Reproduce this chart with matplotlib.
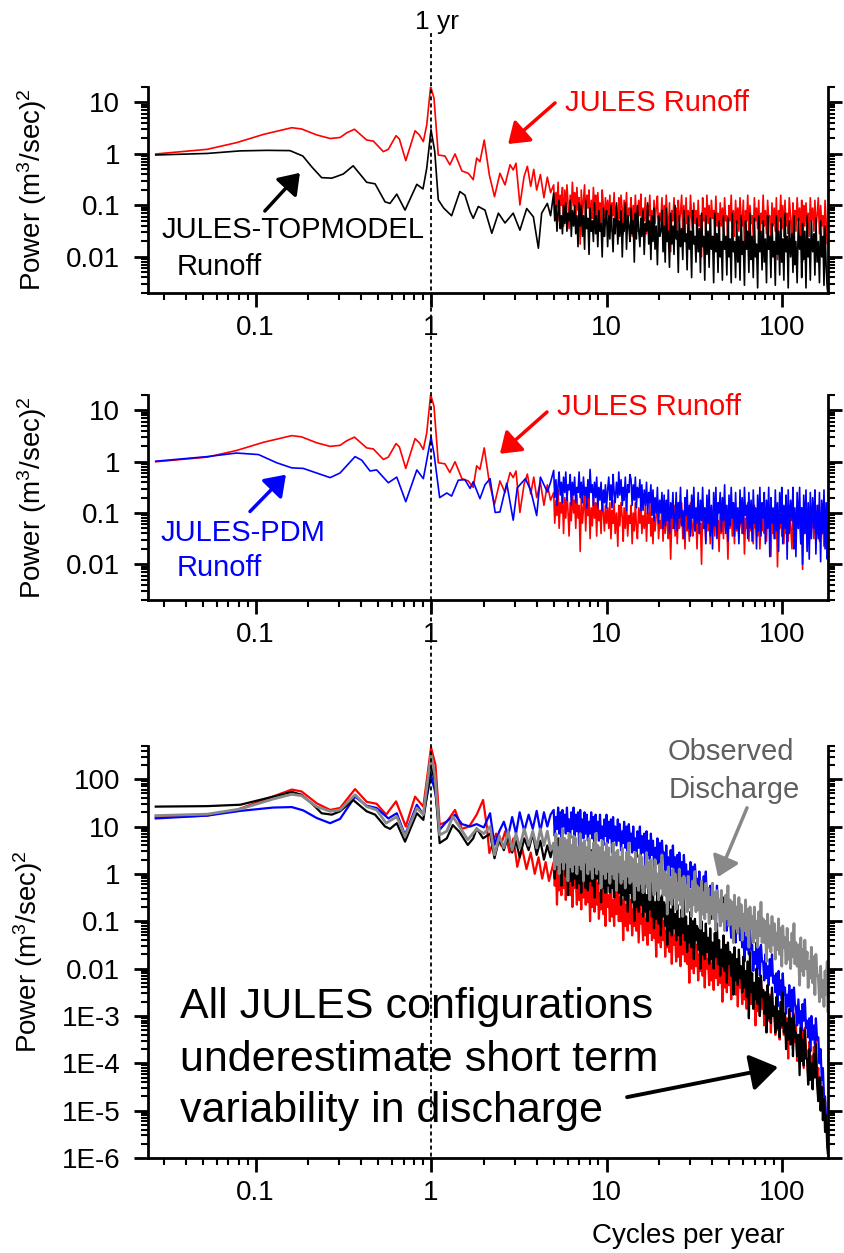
import numpy as np
import matplotlib
matplotlib.use("Agg")
import matplotlib.pyplot as plt
from matplotlib.lines import Line2D
from matplotlib.transforms import blended_transform_factory
from matplotlib.ticker import FixedLocator, FixedFormatter, LogLocator, NullFormatter

plt.rcParams['font.family'] = ['Liberation Sans', 'DejaVu Sans']
plt.rcParams['mathtext.default'] = 'regular'

# ---------------------------------------------------------------
# data (power values stored as log10 of (m3/sec)^2)
# ---------------------------------------------------------------
# shared frequency grid for the noisy high-frequency part (cycles / yr)
freq_hf = [5.00, 5.07, 5.15, 5.22, 5.30, 5.37, 5.45, 5.53, 5.61, 5.69,
           5.78, 5.86, 5.95, 6.03, 6.12, 6.21, 6.30, 6.39, 6.49, 6.58,
           6.68, 6.78, 6.88, 6.98, 7.08, 7.18, 7.29, 7.39, 7.50, 7.61,
           7.72, 7.83, 7.95, 8.06, 8.18, 8.30, 8.42, 8.54, 8.67, 8.79,
           8.92, 9.05, 9.18, 9.31, 9.45, 9.59, 9.73, 9.86, 10.0, 10.15,
           10.3, 10.45, 10.6, 10.75, 10.9, 11.05, 11.2, 11.4, 11.6, 11.75,
           11.9, 12.1, 12.3, 12.45, 12.6, 12.8, 13.0, 13.2, 13.4, 13.6,
           13.8, 14.0, 14.2, 14.4, 14.6, 14.8, 15.0, 15.25, 15.5, 15.7,
           15.9, 16.15, 16.4, 16.65, 16.9, 17.15, 17.4, 17.65, 17.9, 18.15,
           18.4, 18.65, 18.9, 19.2, 19.5, 19.8, 20.1, 20.4, 20.7, 21.0,
           21.3, 21.6, 21.9, 22.2, 22.5, 22.85, 23.2, 23.55, 23.9, 24.25,
           24.6, 24.95, 25.3, 25.65, 26.0, 26.4, 26.8, 27.2, 27.6, 28.0,
           28.4, 28.8, 29.2, 29.65, 30.1, 30.55, 31.0, 31.45, 31.9, 32.35,
           32.8, 33.3, 33.8, 34.3, 34.8, 35.3, 35.8, 36.3, 36.8, 37.35,
           37.9, 38.45, 39.0, 39.6, 40.2, 40.8, 41.4, 42.0, 42.6, 43.2,
           43.8, 44.45, 45.1, 45.75, 46.4, 47.1, 47.8, 48.5, 49.2, 49.9,
           50.6, 51.35, 52.1, 52.85, 53.6, 54.4, 55.2, 56.0, 56.8, 57.65,
           58.5, 59.35, 60.2, 61.1, 62.0, 62.9, 63.8, 64.75, 65.7, 66.65,
           67.6, 68.6, 69.6, 70.6, 71.6, 72.65, 73.7, 74.8, 75.9, 77.0,
           78.1, 79.25, 80.4, 81.6, 82.8, 84.0, 85.2, 86.45, 87.7, 89.0,
           90.3, 91.6, 92.9, 94.25, 95.6, 97.0, 98.4, 99.7, 101, 102.5,
           104, 105.5, 107, 108.5, 110, 112, 114, 115.5, 117, 118.5,
           120, 122, 124, 126, 128, 129.5, 131, 133, 135, 137,
           139, 141, 143, 145, 147, 149.5, 152, 154, 156, 158.5,
           161, 163.5, 166, 168.5, 171, 173.5, 176, 178.5, 181, 182.5]

# --- JULES runoff (red, panels 1 and 2)
runoff_f = [0.027, 0.053, 0.078, 0.111, 0.161, 0.183, 0.223, 0.266, 0.303, 0.331,
            0.366, 0.43, 0.469, 0.535, 0.571, 0.632, 0.66, 0.718, 0.811, 0.858,
            0.904, 0.945, 0.995, 1.04, 1.10, 1.20, 1.28, 1.37, 1.50, 1.63,
            1.74, 1.82, 1.90, 2.01, 2.15, 2.30, 2.47, 2.64, 2.82, 2.94,
            3.05, 3.21, 3.39, 3.54, 3.70, 3.85, 4.00, 4.20, 4.40, 4.60, 4.80]
runoff_lp = [0.0, 0.09, 0.22, 0.38, 0.51, 0.485, 0.37, 0.30, 0.32, 0.41,
             0.48, 0.27, 0.25, 0.045, 0.09, 0.355, 0.29, -0.13, 0.45, 0.37,
             0.24, 0.56, 1.31, 1.08, -0.02, -0.04, -0.21, 0.0, -0.33, -0.375,
             -0.5, -0.08, -0.15, 0.27, -0.41, -0.83, -0.375, -0.6, -0.21, -0.31,
             -0.18, -0.99, -0.44, -0.24, -0.63, -0.3, -0.7, -0.4, -0.85, -0.45, -0.75]
runoff_hf = [-0.6, -1.2, -0.75, -1.05, -0.55, -1.3, -0.8, -1.0, -0.65, -1.4,
             -0.7, -1.1, -0.6, -0.95, -1.45, -0.8, -1.15, -0.55, -1.0, -0.75,
             -1.3, -0.65, -1.1, -0.85, -1.75, -0.7, -1.2, -0.9, -0.6, -1.35,
             -0.8, -1.05, -0.7, -1.5, -0.9, -1.25, -0.65, -1.1, -0.8, -1.45,
             -0.75, -1.15, -0.95, -1.4, -0.7, -1.0, -1.35, -0.85, -1.2, -0.9,
             -1.3, -0.8, -1.5, -0.95, -1.2, -0.75, -1.4, -1.0, -1.65, -0.85,
             -1.25, -0.8, -1.1, -1.55, -0.9, -1.3, -0.75, -1.45, -1.05, -1.2,
             -0.85, -1.6, -1.0, -1.35, -0.8, -1.25, -1.5, -0.9, -1.2, -0.78,
             -1.4, -1.05, -1.3, -0.85, -1.55, -1.0, -1.2, -0.8, -1.45, -1.1,
             -1.6, -0.9, -1.35, -1.05, -0.82, -1.5, -1.15, -1.3, -0.85, -1.55,
             -1.0, -1.4, -0.8, -1.25, -1.5, -0.95, -1.9, -1.1, -1.3, -0.85,
             -1.45, -1.05, -1.6, -0.9, -1.3, -1.15, -0.8, -1.5, -1.0, -1.7,
             -0.85, -1.35, -1.1, -1.55, -0.8, -1.25, -1.45, -0.95, -1.35, -1.1,
             -1.7, -0.9, -1.4, -1.2, -2.0, -0.85, -1.3, -1.05, -1.55, -0.8,
             -1.35, -1.0, -1.6, -0.9, -1.25, -1.1, -1.45, -0.82, -1.4, -1.15,
             -1.75, -0.95, -1.4, -1.05, -1.5, -0.85, -1.3, -1.2, -1.9, -1.0,
             -1.3, -0.8, -1.45, -1.1, -1.6, -0.9, -1.35, -1.05, -1.5, -0.85,
             -1.25, -1.4, -0.9, -1.8, -1.1, -1.3, -0.8, -1.55, -1.0, -1.35,
             -1.2, -1.6, -0.85, -1.3, -1.05, -1.45, -0.9, -1.7, -1.15, -1.35,
             -0.8, -1.4, -1.1, -1.55, -0.9, -1.25, -1.2, -1.85, -0.95, -1.4,
             -1.05, -1.5, -0.85, -2.05, -1.1, -1.3, -0.8, -1.45, -1.0, -1.6,
             -0.9, -1.4, -1.15, -1.55, -0.85, -1.25, -1.7, -0.95, -1.35, -1.1,
             -1.5, -0.85, -1.3, -1.05, -1.6, -0.9, -2.1, -1.0, -1.4, -0.95,
             -1.35, -1.15, -1.6, -0.85, -1.3, -1.05, -1.5, -0.9, -1.45, -1.2,
             -0.85, -1.55, -1.0, -1.4, -1.2, -1.65, -0.9, -1.35, -1.75, -1.3]

# --- JULES-TOPMODEL runoff (black, panel 1)
topmodel_f = [0.027, 0.053, 0.082, 0.116, 0.157, 0.186, 0.209, 0.238, 0.272, 0.316,
              0.36, 0.43, 0.48, 0.547, 0.584, 0.638, 0.711, 0.83, 0.90, 0.945,
              1.0, 1.05, 1.10, 1.18, 1.31, 1.46, 1.56, 1.67, 1.74, 1.86,
              2.03, 2.22, 2.42, 2.64, 2.94, 3.21, 3.51, 3.83, 4.09, 4.27, 4.60, 4.80]
topmodel_lp = [-0.02, 0.01, 0.06, 0.07, 0.065, -0.04, -0.25, -0.46, -0.47, -0.39,
               -0.23, -0.55, -0.58, -0.93, -0.96, -0.78, -1.09, -0.59, -0.68, -0.28,
               0.47, 0.05, -0.89, -1.05, -1.2, -0.73, -0.80, -1.12, -1.25, -1.02,
               -1.09, -1.54, -1.15, -1.34, -1.15, -1.48, -1.06, -1.22, -1.83, -1.15, -0.96, -1.2]
topmodel_hf = [-0.76, -1.3, -1.0, -1.5, -1.1, -0.9, -1.45, -1.2, -1.55, -1.0,
               -1.35, -0.95, -1.5, -1.15, -1.3, -0.9, -1.6, -1.1, -1.4, -1.0,
               -1.55, -1.2, -1.8, -0.95, -1.4, -1.0, -1.6, -1.2, -1.85, -0.9,
               -1.45, -1.25, -1.95, -1.05, -1.5, -1.3, -1.7, -0.95, -1.55, -1.2,
               -1.8, -1.1, -1.5, -1.35, -2.0, -1.05, -1.6, -1.3, -1.1, -1.8,
               -1.2, -1.65, -1.0, -1.45, -1.9, -1.25, -1.55, -0.95, -1.75, -1.3,
               -1.6, -1.1, -2.0, -1.35, -1.5, -0.95, -1.85, -1.2, -1.4, -1.7,
               -1.05, -1.55, -1.3, -2.1, -1.15, -1.65, -1.0, -1.45, -1.8, -1.25,
               -1.6, -1.1, -1.95, -1.35, -1.5, -0.95, -1.75, -1.3, -2.05, -1.2,
               -1.7, -1.05, -1.85, -1.4, -2.15, -1.2, -1.6, -1.5, -1.1, -1.9,
               -1.4, -2.1, -1.05, -1.7, -1.5, -2.2, -1.15, -1.75, -1.4, -1.95,
               -1.0, -1.65, -1.5, -2.3, -1.2, -1.8, -1.45, -2.05, -1.1, -1.7,
               -1.55, -2.25, -1.2, -1.85, -1.5, -2.4, -1.1, -1.75, -1.6, -2.1,
               -1.25, -1.9, -1.45, -2.3, -1.15, -1.8, -1.6, -2.45, -1.2, -1.95,
               -1.5, -2.2, -1.25, -1.85, -1.6, -2.5, -1.15, -1.9, -1.55, -2.3,
               -1.3, -2.0, -1.7, -2.45, -1.2, -1.85, -1.6, -2.35, -1.25, -2.0,
               -1.65, -2.5, -1.15, -1.9, -1.7, -2.4, -1.3, -2.1, -1.6, -2.45,
               -1.2, -1.95, -1.7, -2.55, -1.3, -1.85, -1.5, -2.3, -1.15, -2.05,
               -1.6, -2.4, -1.25, -2.0, -1.75, -2.6, -1.2, -1.9, -1.5, -2.25,
               -1.3, -2.1, -1.65, -2.5, -1.2, -1.85, -1.6, -2.4, -1.35, -2.0,
               -1.7, -2.55, -1.2, -1.95, -1.5, -2.35, -1.25, -2.1, -1.65, -2.45,
               -1.15, -1.9, -1.6, -2.6, -1.3, -2.0, -1.55, -2.3, -1.2, -2.15,
               -1.7, -2.5, -1.25, -1.85, -1.6, -2.4, -1.35, -2.05, -1.5, -2.6,
               -1.2, -2.0, -1.65, -2.45, -1.3, -1.9, -1.55, -2.35, -1.25, -2.1,
               -1.7, -2.5, -1.3, -2.0, -1.6, -2.55, -1.4, -2.2, -2.6, -2.7]

# --- JULES-PDM runoff (blue, panel 2)
pdm_f = [0.027, 0.053, 0.078, 0.104, 0.132, 0.161, 0.187, 0.223, 0.266, 0.303,
         0.369, 0.403, 0.449, 0.49, 0.571, 0.638, 0.718, 0.83, 0.904, 1.0,
         1.04, 1.12, 1.23, 1.31, 1.43, 1.56, 1.67, 1.74, 1.90, 2.03,
         2.17, 2.32, 2.47, 2.70, 2.94, 3.10, 3.45, 3.70, 4.00, 4.20, 4.60, 4.80]
pdm_lp = [0.01, 0.10, 0.17, 0.14, -0.02, -0.12, -0.13, -0.22, -0.31, -0.22,
          0.10, 0.03, -0.18, -0.16, -0.41, -0.30, -0.78, -0.16, -0.33, 0.48,
          0.155, -0.70, -0.61, -0.67, -0.36, -0.35, -0.52, -0.39, -0.72, -0.45,
          -0.33, -0.99, -0.98, -0.42, -1.14, -0.51, -0.33, -0.56, -1.05, -0.30, -0.59, -0.4]
pdm_hf = [-0.17, -0.7, -0.35, -0.85, -0.45, -0.2, -0.65, -0.4, -0.8, -0.3,
          -0.6, -0.2, -0.75, -0.45, -0.55, -0.25, -0.85, -0.4, -0.65, -0.3,
          -0.8, -0.5, -0.6, -0.2, -0.7, -0.4, -0.8, -0.3, -0.65, -0.5,
          -0.9, -0.35, -0.7, -0.15, -0.6, -0.45, -0.85, -0.4, -0.7, -0.3,
          -0.9, -0.5, -0.75, -0.4, -0.95, -0.55, -0.8, -0.45, -0.9, -0.55,
          -0.3, -0.75, -0.45, -0.9, -0.25, -0.6, -0.8, -0.4, -0.7, -0.2,
          -0.65, -0.35, -0.85, -0.5, -0.75, -0.3, -0.95, -0.45, -0.6, -0.25,
          -0.35, -0.85, -0.45, -0.75, -0.3, -0.9, -0.5, -0.7, -0.35, -0.95,
          -0.45, -0.95, -0.55, -0.85, -0.4, -1.0, -0.6, -0.8, -0.45, -1.05,
          -0.55, -1.15, -0.7, -1.0, -0.5, -1.2, -0.75, -1.0, -0.6, -1.3,
          -0.65, -1.25, -0.75, -1.15, -0.55, -1.4, -0.8, -1.1, -0.6, -1.3,
          -1.15, -0.6, -1.35, -0.8, -1.1, -0.5, -1.25, -0.95, -1.5, -0.7,
          -1.05, -0.55, -1.3, -0.85, -1.45, -0.65, -1.1, -0.5, -1.35, -0.9,
          -1.2, -0.6, -1.4, -0.75, -1.15, -0.5, -1.3, -0.9, -1.6, -0.65,
          -1.2, -0.55, -1.45, -0.85, -1.7, -0.6, -1.25, -0.5, -1.5, -0.8,
          -1.0, -0.6, -1.35, -0.7, -1.15, -0.45, -1.4, -0.85, -1.55, -0.65,
          -1.25, -0.5, -1.1, -0.8, -1.45, -0.6, -1.3, -0.9, -1.6, -0.55,
          -1.2, -0.7, -1.4, -0.5, -1.05, -0.85, -1.5, -0.6, -1.3, -0.75,
          -1.55, -0.55, -1.2, -0.9, -1.7, -0.65, -1.35, -0.5, -1.45, -0.8,
          -1.1, -0.6, -1.6, -0.75, -1.3, -0.5, -1.85, -0.7, -1.2, -0.9,
          -1.5, -0.55, -1.35, -0.8, -1.75, -0.6, -1.2, -0.5, -1.6, -0.85,
          -1.3, -0.65, -1.9, -0.55, -1.4, -0.75, -1.15, -0.5, -1.7, -0.9,
          -1.85, -0.6, -1.3, -0.5, -1.6, -0.9, -2.0, -0.65, -1.4, -0.55,
          -1.75, -0.8, -1.9, -0.6, -1.5, -0.7, -1.3, -0.55, -1.8, -0.85,
          -1.5, -0.6, -1.95, -0.75, -1.4, -0.55, -1.7, -0.8, -1.9, -1.2]

# --- discharge, panel 3: JULES (red)
q_jules_f = [0.027, 0.053, 0.078, 0.111, 0.161, 0.183, 0.223, 0.266, 0.303, 0.369,
             0.43, 0.49, 0.555, 0.632, 0.718, 0.811, 0.904, 1.0, 1.06, 1.12,
             1.23, 1.37, 1.50, 1.65, 1.82, 1.98, 2.08, 2.15, 2.35, 2.50,
             2.65, 2.80, 2.95, 3.10, 3.30, 3.50, 3.70, 3.90, 4.10, 4.30, 4.50, 4.70]
q_jules_lp = [1.19, 1.23, 1.35, 1.56, 1.78, 1.74, 1.49, 1.35, 1.39, 1.79,
              1.52, 1.48, 1.25, 1.53, 1.0, 1.63, 1.42, 2.67, 2.30, 1.04,
              1.10, 1.35, 0.95, 1.0, 1.25, 1.56, 1.0, 0.44, 0.85, 0.6,
              0.9, 0.45, 0.75, 0.15, 0.55, 0.1, 0.45, 0.0, 0.35, -0.1, 0.25, -0.15]
q_jules_hf = [0.25, -0.25, 0.2, -0.65, 0.35, -0.35, 0.1, -0.45, 0.3, -0.3,
              0.2, -0.55, 0.0, -0.35, 0.3, -0.45, 0.1, -0.7, 0.15, -0.3,
              -0.1, -0.65, 0.1, -0.55, -0.2, -0.75, 0.0, -0.5, 0.2, -0.65,
              -0.1, -0.6, -0.15, -1.0, 0.0, -0.7, -0.25, -0.8, -0.05, -0.65,
              -0.2, -0.95, -0.4, -0.75, -0.1, -0.85, -0.3, -1.1, -0.25, -0.7,
              -0.45, -1.0, -0.25, -0.9, -0.55, -1.1, -0.35, -0.85, -0.15, -1.0,
              -0.5, -1.0, -0.55, -1.4, -0.4, -1.1, -0.65, -1.2, -0.45, -1.05,
              -0.55, -1.3, -0.75, -1.1, -0.45, -1.2, -0.65, -1.45, -0.6, -1.05,
              -0.85, -1.4, -0.65, -1.3, -0.95, -1.5, -0.75, -1.25, -0.55, -1.4,
              -0.85, -1.35, -0.9, -1.75, -0.75, -1.45, -1.0, -1.55, -0.8, -1.4,
              -1.0, -1.75, -1.2, -1.55, -0.9, -1.65, -1.1, -1.9, -1.05, -1.5,
              -1.3, -1.85, -1.1, -1.75, -1.4, -1.95, -1.2, -1.7, -1.0, -1.85,
              -1.4, -1.9, -1.45, -2.3, -1.3, -2.0, -1.55, -2.1, -1.35, -1.95,
              -1.5, -2.25, -1.7, -2.05, -1.4, -2.15, -1.6, -2.4, -1.55, -2.0,
              -1.8, -2.35, -1.6, -2.25, -1.9, -2.45, -1.7, -2.2, -1.5, -2.35,
              -1.8, -2.3, -1.85, -2.7, -1.7, -2.4, -1.95, -2.5, -1.75, -2.35,
              -1.9, -2.65, -2.1, -2.45, -1.8, -2.55, -2.0, -2.8, -1.95, -2.4,
              -2.2, -2.75, -2.0, -2.65, -2.3, -2.85, -2.1, -2.6, -1.9, -2.75,
              -2.3, -2.8, -2.35, -3.2, -2.2, -2.9, -2.45, -3.0, -2.25, -2.85,
              -2.45, -3.2, -2.65, -3.0, -2.35, -3.1, -2.55, -3.35, -2.5, -2.95,
              -2.85, -3.4, -2.65, -3.3, -2.95, -3.5, -2.75, -3.25, -2.55, -3.4,
              -3.0, -3.5, -3.05, -3.9, -2.9, -3.6, -3.15, -3.7, -2.95, -3.55,
              -3.2, -3.95, -3.4, -3.75, -3.1, -3.85, -3.3, -4.1, -3.25, -3.7,
              -3.75, -4.3, -3.55, -4.2, -3.85, -4.4, -3.65, -4.15, -3.45, -4.3,
              -4.1, -4.75, -4.3, -4.95, -4.5, -5.1, -4.8, -5.4, -5.5, -5.8]

# --- discharge, panel 3: JULES-TOPMODEL (black)
q_top_f = [0.027, 0.053, 0.082, 0.126, 0.161, 0.183, 0.213, 0.238, 0.272, 0.303,
           0.36, 0.43, 0.48, 0.547, 0.584, 0.638, 0.711, 0.83, 0.904, 0.945,
           1.0, 1.05, 1.12, 1.23, 1.33, 1.45, 1.62, 1.74, 1.82, 1.98,
           2.17, 2.30, 2.45, 2.60, 2.75, 2.90, 3.05, 3.20, 3.40, 3.60,
           3.80, 4.00, 4.20, 4.40, 4.60, 4.80]
q_top_lp = [1.42, 1.43, 1.46, 1.63, 1.73, 1.67, 1.46, 1.28, 1.25, 1.32,
            1.56, 1.32, 1.25, 1.0, 0.95, 1.07, 0.68, 1.28, 1.14, 1.63,
            2.30, 1.95, 0.65, 0.75, 1.03, 0.89, 0.61, 0.75, 0.96, 0.75,
            0.85, 0.33, 0.75, 0.5, 0.8, 0.45, 0.7, 0.35, 0.75, 0.5,
            0.85, 0.4, 0.7, 0.3, 0.6, 0.35]
q_top_hf = [0.65, -0.1, 0.45, 0.1, 0.75, 0.0, 0.55, -0.25, 0.6, 0.15,
            0.45, -0.05, 0.4, -0.45, 0.55, -0.15, 0.3, -0.25, 0.5, -0.1,
            0.25, -0.3, 0.45, -0.2, 0.15, -0.4, 0.35, -0.15, 0.55, -0.3,
            0.4, -0.35, 0.2, -0.15, 0.5, -0.25, 0.3, -0.5, 0.35, -0.1,
            0.3, -0.2, 0.25, -0.6, 0.4, -0.3, 0.15, -0.4, 0.35, -0.25,
            0.15, -0.4, 0.35, -0.3, 0.05, -0.5, 0.25, -0.25, 0.45, -0.4,
            0.1, -0.65, -0.1, -0.45, 0.2, -0.55, 0.0, -0.8, 0.05, -0.4,
            -0.1, -0.6, -0.15, -1.0, 0.0, -0.7, -0.25, -0.8, -0.05, -0.65,
            -0.35, -0.9, -0.15, -0.8, -0.45, -1.0, -0.25, -0.75, -0.05, -0.9,
            -0.4, -1.15, -0.6, -0.95, -0.3, -1.05, -0.5, -1.3, -0.45, -0.9,
            -0.6, -1.1, -0.65, -1.5, -0.5, -1.2, -0.75, -1.3, -0.55, -1.15,
            -0.85, -1.4, -0.65, -1.3, -0.95, -1.5, -0.75, -1.25, -0.55, -1.4,
            -0.9, -1.65, -1.1, -1.45, -0.8, -1.55, -1.0, -1.8, -0.95, -1.4,
            -1.1, -1.6, -1.15, -2.0, -1.0, -1.7, -1.25, -1.8, -1.05, -1.65,
            -1.35, -1.9, -1.15, -1.8, -1.45, -2.0, -1.25, -1.75, -1.05, -1.9,
            -1.4, -2.15, -1.6, -1.95, -1.3, -2.05, -1.5, -2.3, -1.45, -1.9,
            -1.65, -2.15, -1.7, -2.55, -1.55, -2.25, -1.8, -2.35, -1.6, -2.2,
            -1.95, -2.5, -1.75, -2.4, -2.05, -2.6, -1.85, -3.05, -1.65, -2.5,
            -2.1, -2.85, -2.3, -2.65, -2.0, -2.75, -2.2, -3.0, -2.15, -2.6,
            -2.45, -2.95, -2.5, -3.35, -2.35, -3.05, -2.6, -3.15, -2.4, -3.0,
            -2.8, -3.35, -2.6, -3.25, -2.9, -3.45, -2.7, -3.2, -2.5, -3.35,
            -2.95, -3.7, -3.15, -3.5, -2.85, -3.6, -3.05, -3.85, -3.0, -3.45,
            -3.35, -3.85, -3.4, -4.25, -3.25, -3.95, -3.5, -4.05, -3.3, -3.9,
            -3.9, -4.45, -3.7, -4.35, -4.0, -4.55, -3.8, -4.3, -3.6, -4.45,
            -4.8, -4.3, -5.0, -4.5, -5.2, -4.75, -5.45, -5.1, -5.75, -5.9]

# --- discharge, panel 3: JULES-PDM (blue)
q_pdm_f = [0.027, 0.053, 0.082, 0.126, 0.161, 0.187, 0.223, 0.266, 0.303, 0.369,
           0.43, 0.49, 0.571, 0.638, 0.711, 0.83, 0.904, 1.0, 1.06, 1.12,
           1.23, 1.37, 1.50, 1.67, 1.82, 2.0, 2.17, 2.30, 2.45, 2.60,
           2.75, 2.90, 3.05, 3.20, 3.40, 3.60, 3.80, 4.00, 4.20, 4.40, 4.60, 4.80]
q_pdm_lp = [1.17, 1.23, 1.33, 1.40, 1.41, 1.34, 1.18, 1.07, 1.16, 1.63,
            1.44, 1.39, 1.17, 1.28, 0.82, 1.46, 1.25, 2.08, 1.7, 0.93,
            1.11, 1.25, 1.05, 1.0, 1.05, 0.98, 1.28, 0.61, 0.9, 1.1,
            0.8, 1.2, 0.85, 1.3, 0.9, 1.25, 0.95, 1.33, 0.9, 1.3, 1.0, 1.25]
q_pdm_hf = [1.35, 0.8, 1.2, 0.95, 1.4, 0.85, 1.3, 0.7, 1.35, 1.0,
            1.25, 0.85, 1.4, 0.9, 1.15, 0.75, 1.3, 0.95, 1.4, 0.8,
            1.25, 0.9, 1.3, 0.6, 1.35, 0.85, 1.15, 0.75, 1.3, 0.85,
            1.25, 0.7, 1.1, 0.85, 1.3, 0.75, 1.2, 0.6, 1.25, 0.9,
            1.1, 0.7, 1.25, 0.75, 1.0, 0.6, 1.15, 0.8, 1.25, 0.65,
            1.1, 0.75, 1.15, 0.45, 1.2, 0.7, 1.0, 0.6, 1.15, 0.7,
            1.05, 0.5, 0.9, 0.65, 1.1, 0.55, 1.0, 0.4, 1.05, 0.7,
            0.85, 0.45, 1.0, 0.5, 0.75, 0.35, 0.9, 0.55, 1.0, 0.4,
            0.8, 0.45, 0.85, 0.15, 0.9, 0.4, 0.7, 0.3, 0.85, 0.4,
            0.7, 0.15, 0.55, 0.3, 0.75, 0.2, 0.65, 0.05, 0.7, 0.35,
            0.45, 0.05, 0.6, 0.1, 0.35, -0.05, 0.5, 0.15, 0.6, 0.0,
            0.35, 0.0, 0.4, -0.3, 0.45, -0.05, 0.25, -0.15, 0.4, -0.05,
            0.2, -0.35, 0.05, -0.2, 0.25, -0.3, 0.15, -0.45, 0.2, -0.15,
            -0.1, -0.5, 0.05, -0.45, -0.2, -0.6, -0.05, -0.4, 0.05, -0.55,
            -0.3, -0.65, -0.25, -0.95, -0.2, -0.7, -0.4, -0.8, -0.25, -0.7,
            -0.55, -1.1, -0.7, -0.95, -0.5, -1.05, -0.6, -1.2, -0.55, -0.9,
            -0.95, -1.35, -0.8, -1.3, -1.05, -1.45, -0.9, -1.25, -0.8, -1.4,
            -1.2, -1.55, -1.15, -1.85, -1.1, -1.6, -1.3, -1.7, -1.15, -1.6,
            -1.5, -2.05, -1.65, -1.9, -1.45, -2.0, -1.55, -2.15, -1.5, -1.85,
            -1.85, -2.25, -1.7, -2.2, -1.95, -2.35, -1.8, -2.15, -1.7, -2.3,
            -2.15, -2.5, -2.1, -2.8, -2.05, -2.55, -2.25, -2.65, -2.1, -2.55,
            -2.4, -2.95, -2.55, -2.8, -2.35, -2.9, -2.45, -3.05, -2.4, -2.75,
            -2.8, -3.2, -2.65, -3.15, -2.9, -3.3, -2.75, -3.1, -2.65, -3.25,
            -3.1, -3.45, -3.05, -3.75, -3.0, -3.5, -3.2, -3.6, -3.05, -3.5,
            -3.45, -4.0, -3.7, -4.35, -4.1, -4.7, -4.7, -5.25, -5.4, -5.7]

# --- observed discharge (grey, panel 3)
q_obs_f = [0.027, 0.053, 0.082, 0.126, 0.161, 0.183, 0.223, 0.266, 0.303, 0.369,
           0.43, 0.49, 0.555, 0.638, 0.711, 0.83, 0.904, 1.0, 1.05, 1.12,
           1.23, 1.33, 1.45, 1.62, 1.82, 2.0, 2.17, 2.30, 2.45, 2.60,
           2.75, 2.90, 3.05, 3.20, 3.40, 3.60, 3.80, 4.00, 4.20, 4.40, 4.60, 4.80]
q_obs_lp = [1.23, 1.26, 1.37, 1.58, 1.68, 1.65, 1.42, 1.32, 1.35, 1.67,
            1.42, 1.35, 1.07, 1.21, 0.79, 1.39, 1.25, 2.52, 2.1, 0.82,
            0.9, 1.21, 1.0, 0.72, 0.95, 0.85, 1.0, 0.4, 0.8, 0.55,
            0.9, 0.5, 0.85, 0.55, 0.95, 0.6, 0.9, 0.55, 0.95, 0.6, 0.9, 0.5]
q_obs_hf = [0.65, 0.1, 0.85, 0.2, 0.55, 0.0, 0.75, 0.25, 0.95, 0.1,
            0.75, 0.25, 0.7, -0.15, 0.85, 0.15, 0.6, 0.05, 0.8, 0.2,
            0.75, 0.0, 0.55, 0.2, 0.85, 0.1, 0.65, -0.15, 0.7, 0.25,
            0.55, 0.0, 0.75, 0.1, 0.45, -0.1, 0.65, 0.15, 0.85, 0.0,
            0.6, 0.1, 0.55, -0.3, 0.7, 0.0, 0.45, -0.1, 0.65, 0.05,
            0.55, -0.2, 0.35, 0.0, 0.65, -0.1, 0.45, -0.35, 0.5, 0.05,
            0.35, -0.2, 0.55, -0.1, 0.25, -0.3, 0.45, -0.05, 0.65, -0.2,
            0.35, -0.15, 0.3, -0.55, 0.45, -0.25, 0.2, -0.35, 0.4, -0.2,
            0.35, -0.4, 0.15, -0.2, 0.45, -0.3, 0.25, -0.55, 0.3, -0.15,
            0.1, -0.45, 0.3, -0.35, 0.0, -0.55, 0.2, -0.3, 0.4, -0.45,
            0.05, -0.45, 0.0, -0.85, 0.15, -0.55, -0.1, -0.65, 0.1, -0.5,
            0.0, -0.75, -0.2, -0.55, 0.1, -0.65, -0.1, -0.9, -0.05, -0.5,
            -0.25, -0.8, -0.05, -0.7, -0.35, -0.9, -0.15, -0.65, 0.05, -0.8,
            -0.25, -0.75, -0.3, -1.15, -0.15, -0.85, -0.4, -0.95, -0.2, -0.8,
            -0.3, -1.05, -0.5, -0.85, -0.2, -0.95, -0.4, -1.2, -0.35, -0.8,
            -0.55, -1.1, -0.35, -1.0, -0.65, -1.2, -0.45, -0.95, -0.25, -1.1,
            -0.55, -1.05, -0.6, -1.45, -0.45, -1.15, -0.7, -1.25, -0.5, -1.1,
            -0.65, -1.4, -0.85, -1.2, -0.55, -1.3, -0.75, -1.55, -0.7, -1.15,
            -0.9, -1.45, -0.7, -1.35, -1.0, -1.55, -0.8, -1.3, -0.6, -1.45,
            -0.95, -1.45, -1.0, -1.85, -0.85, -1.55, -1.1, -1.65, -0.9, -1.5,
            -1.05, -1.8, -1.25, -1.6, -0.95, -1.7, -1.15, -1.95, -1.1, -1.55,
            -1.35, -1.9, -1.15, -1.8, -1.45, -2.0, -1.25, -1.75, -1.05, -1.9,
            -1.45, -1.95, -1.5, -2.35, -1.35, -2.05, -1.6, -2.15, -1.4, -2.0,
            -1.65, -2.4, -1.85, -2.2, -1.55, -2.3, -1.75, -2.55, -1.7, -2.15,
            -2.15, -2.7, -1.95, -2.6, -2.25, -2.8, -2.05, -2.55, -1.85, -2.9]

# axis ticks
x_ticks = [0.1, 1, 10, 100]
x_labels = ["0.1", "1", "10", "100"]
y_ticks_runoff = [0.01, 0.1, 1, 10]
y_labels_runoff = ["0.01", "0.1", "1", "10"]
y_ticks_q = [1e-6, 1e-5, 1e-4, 1e-3, 0.01, 0.1, 1, 10, 100]
y_labels_q = ["1E-6", "1E-5", "1E-4", "1E-3", "0.01", "0.1", "1", "10", "100"]

XLIM = (0.0244, 183)
RED, BLUE, GREY = '#ff0000', '#0000ff', '#888888'


def spectrum(f_low, lp_low, lp_hf):
    n = min(len(f_low), len(lp_low))
    m = min(len(freq_hf), len(lp_hf))
    f = np.concatenate([np.array(f_low[:n]), np.array(freq_hf[:m])])
    p = 10.0 ** np.concatenate([np.array(lp_low[:n]), np.array(lp_hf[:m])])
    return f, p


def style_axes(ax, ylim, yticks, ylabels, label_x):
    ax.set_xscale('log')
    ax.set_yscale('log')
    ax.set_xlim(*XLIM)
    ax.set_ylim(*ylim)
    ax.spines['top'].set_visible(False)
    for s in ('left', 'bottom', 'right'):
        ax.spines[s].set_linewidth(2)
    ax.xaxis.set_major_locator(FixedLocator(x_ticks))
    ax.xaxis.set_major_formatter(FixedFormatter(x_labels))
    ax.xaxis.set_minor_locator(LogLocator(base=10, subs=np.arange(2, 10), numticks=100))
    ax.xaxis.set_minor_formatter(NullFormatter())
    ax.yaxis.set_major_locator(FixedLocator(yticks))
    ax.yaxis.set_major_formatter(FixedFormatter(ylabels))
    ax.yaxis.set_minor_locator(LogLocator(base=10, subs=np.arange(2, 10), numticks=100))
    ax.yaxis.set_minor_formatter(NullFormatter())
    ax.tick_params(which='both', direction='out', right=True, top=False, labelright=False)
    ax.tick_params(which='major', length=10, width=2, labelsize=20)
    ax.tick_params(which='minor', length=5, width=1.5)
    ax.tick_params(axis='y', pad=10)
    ax.tick_params(axis='x', pad=6)
    ax.set_ylabel('Power (m$^3$/sec)$^2$', fontsize=20)
    ax.yaxis.set_label_coords(label_x, 0.5)


fig = plt.figure(figsize=(8.44, 12.53), dpi=100)
ax1 = fig.add_axes([0.1754, 0.7662, 0.8057, 0.1644])
ax2 = fig.add_axes([0.1754, 0.5211, 0.8057, 0.1636])
ax3 = fig.add_axes([0.1754, 0.0758, 0.8057, 0.3288])

arrow_kw = dict(arrowstyle='-|>,head_length=0.5,head_width=0.35', lw=2.5,
                mutation_scale=24, shrinkA=0, shrinkB=0)

# ---- panel 1: JULES vs JULES-TOPMODEL runoff
f, p = spectrum(runoff_f, runoff_lp, runoff_hf)
ax1.plot(f, p, color=RED, lw=1.2)
f, p = spectrum(topmodel_f, topmodel_lp, topmodel_hf)
ax1.plot(f, p, color='black', lw=1.2)
style_axes(ax1, (0.002, 20), y_ticks_runoff, y_labels_runoff, -0.145)

ax1.text(5.8, 9.8, 'JULES Runoff', color=RED, fontsize=21, va='center', ha='left')
ax1.annotate('', xy=(2.75, 1.56), xytext=(5.09, 9.8),
             arrowprops=dict(color=RED, **arrow_kw))
ax1.text(0.0293, 0.0334, 'JULES-TOPMODEL', color='black', fontsize=21, va='center', ha='left')
ax1.text(0.0357, 0.0064, 'Runoff', color='black', fontsize=21, va='center', ha='left')
ax1.annotate('', xy=(0.179, 0.43), xytext=(0.113, 0.078),
             arrowprops=dict(color='black', **arrow_kw))

# ---- panel 2: JULES vs JULES-PDM runoff
f, p = spectrum(runoff_f, runoff_lp, runoff_hf)
ax2.plot(f, p, color=RED, lw=1.2)
f, p = spectrum(pdm_f, pdm_lp, pdm_hf)
ax2.plot(f, p, color=BLUE, lw=1.2)
style_axes(ax2, (0.002, 20), y_ticks_runoff, y_labels_runoff, -0.145)

ax2.text(5.22, 11.7, 'JULES Runoff', color=RED, fontsize=21, va='center', ha='left')
ax2.annotate('', xy=(2.47, 1.43), xytext=(4.58, 9.35),
             arrowprops=dict(color=RED, **arrow_kw))
ax2.text(0.0286, 0.040, 'JULES-PDM', color=BLUE, fontsize=21, va='center', ha='left')
ax2.text(0.0357, 0.0084, 'Runoff', color=BLUE, fontsize=21, va='center', ha='left')
ax2.annotate('', xy=(0.149, 0.56), xytext=(0.093, 0.107),
             arrowprops=dict(color=BLUE, **arrow_kw))

# ---- panel 3: discharge
f, p = spectrum(q_jules_f, q_jules_lp, q_jules_hf)
ax3.plot(f, p, color=RED, lw=1.6)
f, p = spectrum(q_pdm_f, q_pdm_lp, q_pdm_hf)
ax3.plot(f, p, color=BLUE, lw=1.6)
f, p = spectrum(q_top_f, q_top_lp, q_top_hf)
ax3.plot(f, p, color='black', lw=1.6)
f, p = spectrum(q_obs_f, q_obs_lp, q_obs_hf)
ax3.plot(f, p, color=GREY, lw=2.0)
style_axes(ax3, (1e-6, 500), y_ticks_q, y_labels_q, -0.152)

ax3.text(22.4, 380, 'Observed', color='#606060', fontsize=21, va='center', ha='left')
ax3.text(22.7, 59.7, 'Discharge', color='#606060', fontsize=21, va='center', ha='left')
ax3.annotate('', xy=(43.2, 0.86), xytext=(63.2, 24.8),
             arrowprops=dict(color=GREY, **arrow_kw))

ax3.text(0.0371, 10 ** -3.044, 'All JULES configurations', fontsize=31, va='baseline', ha='left')
ax3.text(0.0371, 10 ** -4.165, 'underestimate short term', fontsize=31, va='baseline', ha='left')
ax3.text(0.0371, 10 ** -5.243, 'variability in discharge', fontsize=31, va='baseline', ha='left')
ax3.annotate('', xy=(94.9, 8.3e-5), xytext=(13.1, 1.93e-5),
             arrowprops=dict(color='black', arrowstyle='-|>,head_length=0.6,head_width=0.4',
                             lw=2.8, mutation_scale=28, shrinkA=0, shrinkB=0))

ax3.set_xlabel('Cycles per year', fontsize=20)
ax3.xaxis.set_label_coords(0.794, -0.158)

# ---- dashed "1 yr" marker spanning all panels
trans = blended_transform_factory(ax3.transData, fig.transFigure)
fig.add_artist(Line2D([1, 1], [1 - 33 / 1253, 1 - 1158 / 1253], transform=trans,
                      color='black', lw=1.3, linestyle=(0, (2.2, 1.7))))
fig.text(415 / 844, 1 - 29 / 1253, '1 yr', fontsize=19, va='baseline', ha='left')

fig.savefig('out.png', dpi=100)
